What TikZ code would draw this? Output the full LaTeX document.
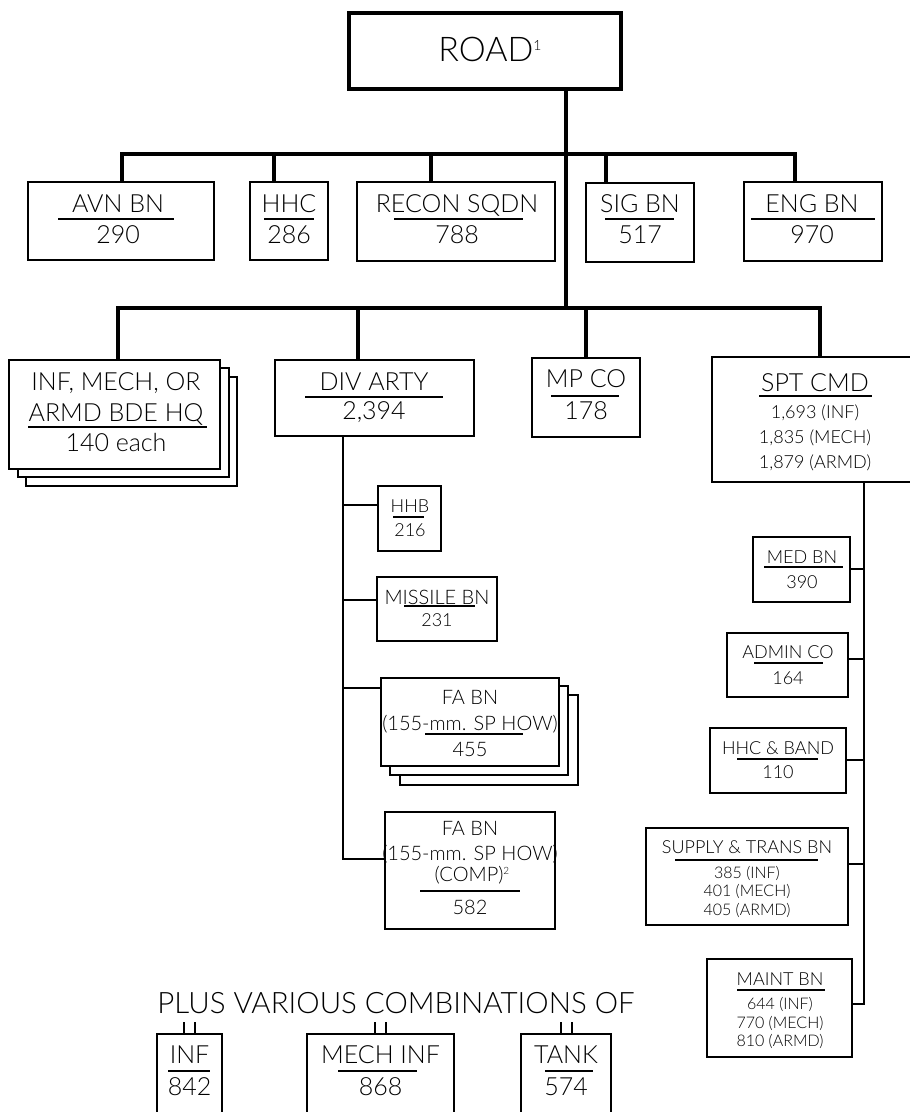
\documentclass[tikz,border=0pt]{standalone}
\usepackage{fontspec}
\setmainfont{Lato Light}

% box from corner (x1,y1) to corner (x2,y2), y counted downwards
\newcommand{\orgbox}[6][]{%
  \node[box,#1,minimum width={(#5-#3)*1pt},minimum height={(#6-#4)*1pt}] (#2) at ({(#3+#5)/2},{(#4+#6)/2}) {};}

\tikzset{
  box/.style={draw,line width=2.2pt,inner sep=0pt,fill=white},
  bar/.style={line width=4pt},
  link/.style={line width=2.2pt},
  ul/.style={line width=1.8pt},
  tick/.style={line width=2pt},
  lroad/.style={inner sep=0pt,text depth=0pt,text height=24pt,font=\fontsize{34}{36}\selectfont},
  lplus/.style={inner sep=0pt,text depth=0pt,text height=20.8pt,font=\fontsize{29.5}{31}\selectfont},
  lbig/.style={inner sep=0pt,text depth=0pt,text height=17.6pt,font=\fontsize{25}{26}\selectfont},
  lmid/.style={inner sep=0pt,text depth=0pt,text height=14.3pt,font=\fontsize{20}{22}\selectfont},
  lsm/.style={inner sep=0pt,text depth=0pt,text height=12.9pt,font=\fontsize{18}{20}\selectfont},
  ltiny/.style={inner sep=0pt,text depth=0pt,text height=11.5pt,font=\fontsize{16}{18}\selectfont},
}

\begin{document}
\begin{tikzpicture}[x=1pt,y=-1pt]
  \clip (0,0) rectangle (910,1112);

  % top and first row
  \orgbox[line width=4pt]{road}{349}{13}{621}{89}
  \orgbox{avn}{28}{182}{214}{260}
  \orgbox{hhc}{250}{182}{328}{260}
  \orgbox{recon}{357}{182}{555}{261}
  \orgbox{sig}{586}{183}{694}{262}
  \orgbox{eng}{744}{182}{882}{261}

  % second row
  \orgbox{hq3}{26}{377}{237}{486}
  \orgbox{hq2}{18}{368}{229}{477}
  \orgbox{hq}{9}{360}{220}{469}
  \orgbox{arty}{275}{360}{474}{436}
  \orgbox{mp}{532}{358}{640}{437}
  \orgbox{spt}{712}{357}{918}{482}

  % div arty
  \orgbox{hhb}{378}{486}{441}{551}
  \orgbox{msl}{377}{577}{497}{641}
  \orgbox{fa3}{400}{695}{578}{785}
  \orgbox{fa2}{390}{686}{568}{775}
  \orgbox{fa}{381}{678}{559}{766}
  \orgbox{fac}{385}{812}{555}{929}

  % spt cmd
  \orgbox{med}{753}{537}{850}{602}
  \orgbox{adm}{727}{633}{848}{697}
  \orgbox{band}{710}{728}{846}{793}
  \orgbox{sup}{646}{828}{848}{925}
  \orgbox{mnt}{707}{959}{852}{1057}

  % combinations
  \orgbox{inf}{157}{1034}{222}{1130}
  \orgbox{mech}{307}{1034}{454}{1130}
  \orgbox{tank}{521}{1034}{611}{1130}

  % connectors
  \coordinate (t) at (566,308);
  \coordinate (u1) at (122,154);
  \coordinate (u2) at (274,154);
  \coordinate (u3) at (431,154);
  \coordinate (u4) at (606,154);
  \coordinate (u5) at (795,154);
  \coordinate (l1) at (118,308);
  \coordinate (l2) at (358,308);
  \coordinate (l3) at (586,308);
  \coordinate (l4) at (820,308);

  \draw[bar] (road.south -| t) -- (t);
  \draw[bar] (u1 |- avn.north) -- (u1) -- (u5) -- (u5 |- eng.north);
  \draw[bar] (u2) -- (u2 |- hhc.north);
  \draw[bar] (u3) -- (u3 |- recon.north);
  \draw[bar] (u4) -- (u4 |- sig.north);
  \draw[bar] (l1 |- hq.north) -- (l1) -- (l4) -- (l4 |- spt.north);
  \draw[bar] (l2) -- (l2 |- arty.north);
  \draw[bar] (l3) -- (l3 |- mp.north);

  \coordinate (a1) at (343,505);
  \coordinate (a2) at (343,600);
  \coordinate (a3) at (343,688);
  \coordinate (a4) at (343,859);
  \draw[link] (arty.south -| a4) -- (a4) -- (a4 -| fac.west);
  \foreach \c/\n in {a1/hhb,a2/msl,a3/fa}
    \draw[link] (\c) -- (\c -| \n.west);

  \coordinate (s1) at (864,569);
  \coordinate (s2) at (864,659);
  \coordinate (s3) at (864,760);
  \coordinate (s4) at (864,864);
  \coordinate (s5) at (864,1004);
  \draw[link] (spt.south -| s5) -- (s5) -- (s5 -| mnt.east);
  \foreach \c/\n in {s1/med,s2/adm,s3/band,s4/sup}
    \draw[link] (\c) -- (\c -| \n.east);

  \foreach \n in {inf,mech,tank} {
    \draw[tick] ([xshift=-5.5pt]\n.north) -- ++(0,-11);
    \draw[tick] ([xshift=5.5pt]\n.north) -- ++(0,-11);
  }

  % texts
  \node[lroad] (road-t) at (490,49) {ROAD\raisebox{10.5pt}{\fontsize{14}{14}\selectfont 1}};
  \node[lplus] (plus) at (396,1003) {PLUS VARIOUS COMBINATIONS OF};

  \begin{scope}[every node/.style=lbig]
    \node (avn-t) at (118,204) {AVN BN};
    \node (avn-n) at (118,235) {290};
    \node (hhc-t) at (289,204) {HHC};
    \node (hhc-n) at (289,235) {286};
    \node (recon-t) at (457,204) {RECON SQDN};
    \node (recon-n) at (457,235) {788};
    \node (sig-t) at (640,204) {SIG BN};
    \node (sig-n) at (640,235) {517};
    \node (eng-t) at (812,204) {ENG BN};
    \node (eng-n) at (812,235) {970};
    \node (hq-t1) at (116,382) {INF, MECH, OR};
    \node (hq-t2) at (116,413) {ARMD BDE HQ};
    \node (hq-n) at (116,443) {140 each};
    \node (arty-t) at (374,382) {DIV ARTY};
    \node (arty-n) at (374,411) {2,394};
    \node (mp-t) at (586,379) {MP CO};
    \node (mp-n) at (586,411) {178};
    \node (spt-t) at (815,383) {SPT CMD};
    \node (inf-t) at (189.5,1055) {INF};
    \node (inf-n) at (189.5,1087) {842};
    \node (mech-t) at (380.5,1055) {MECH INF};
    \node (mech-n) at (380.5,1087) {868};
    \node (tank-t) at (566,1055) {TANK};
    \node (tank-n) at (566,1087) {574};
  \end{scope}

  \begin{scope}[every node/.style=lmid]
    \node (msl-t) at (437,597) {MISSILE BN};
    \node (fa-t1) at (470,697) {FA BN};
    \node (fa-t2) at (470,723) {(155-mm. SP HOW)};
    \node (fa-n) at (470,749) {455};
    \node (fac-t1) at (470,828) {FA BN};
    \node (fac-t2) at (470,853) {(155-mm. SP HOW)};
    \node (fac-t3) at (472,874) {(COMP)\raisebox{7pt}{\fontsize{10}{10}\selectfont 2}};
    \node (fac-n) at (470,907) {582};
  \end{scope}

  \begin{scope}[every node/.style=lsm]
    \node (hhb-t) at (410,506) {HHB};
    \node (hhb-n) at (410,530) {216};
    \node (msl-n) at (437,620) {231};
    \node (spt-n1) at (815,412) {1,693 (INF)};
    \node (spt-n2) at (815,437) {1,835 (MECH)};
    \node (spt-n3) at (815,462) {1,879 (ARMD)};
    \node (med-t) at (802,557) {MED BN};
    \node (med-n) at (802,582) {390};
    \node (adm-t) at (788,652) {ADMIN CO};
    \node (adm-n) at (788,678) {164};
    \node (band-t) at (778,748) {HHC \& BAND};
    \node (band-n) at (778,772) {110};
    \node (sup-t) at (747,847) {SUPPLY \& TRANS BN};
    \node (mnt-t) at (780,979) {MAINT BN};
  \end{scope}

  \begin{scope}[every node/.style=ltiny]
    \node (sup-n1) at (747,873) {385 (INF)};
    \node (sup-n2) at (747,891) {401 (MECH)};
    \node (sup-n3) at (747,910) {405 (ARMD)};
    \node (mnt-n1) at (780,1004) {644 (INF)};
    \node (mnt-n2) at (780,1023) {770 (MECH)};
    \node (mnt-n3) at (780,1041) {810 (ARMD)};
  \end{scope}

  % underlines
  \draw[ul] (58,219) -- (174,219);
  \draw[ul] (264,219) -- (314,219);
  \draw[ul] (394,219) -- (523,219);
  \draw[ul] (605,219) -- (674,219);
  \draw[ul] (751,219) -- (875,219);
  \draw[ul] (28,427) -- (207,427);
  \draw[ul] (305,397) -- (443,397);
  \draw[ul] (551,396) -- (619,396);
  \draw[ul] (759,396) -- (872,396);
  \draw[ul] (393,517) -- (424,517);
  \draw[ul] (404,606) -- (475,606);
  \draw[ul] (425,734) -- (523,734);
  \draw[ul] (420,891) -- (520,891);
  \draw[ul] (764,567) -- (843,567);
  \draw[ul] (754,663) -- (823,663);
  \draw[ul] (737,759) -- (818,759);
  \draw[ul] (675,860) -- (818,860);
  \draw[ul] (737,990) -- (825,990);
  \draw[ul] (168,1071) -- (210,1071);
  \draw[ul] (338,1071) -- (417,1071);
  \draw[ul] (545,1071) -- (593,1071);
\end{tikzpicture}
\end{document}
